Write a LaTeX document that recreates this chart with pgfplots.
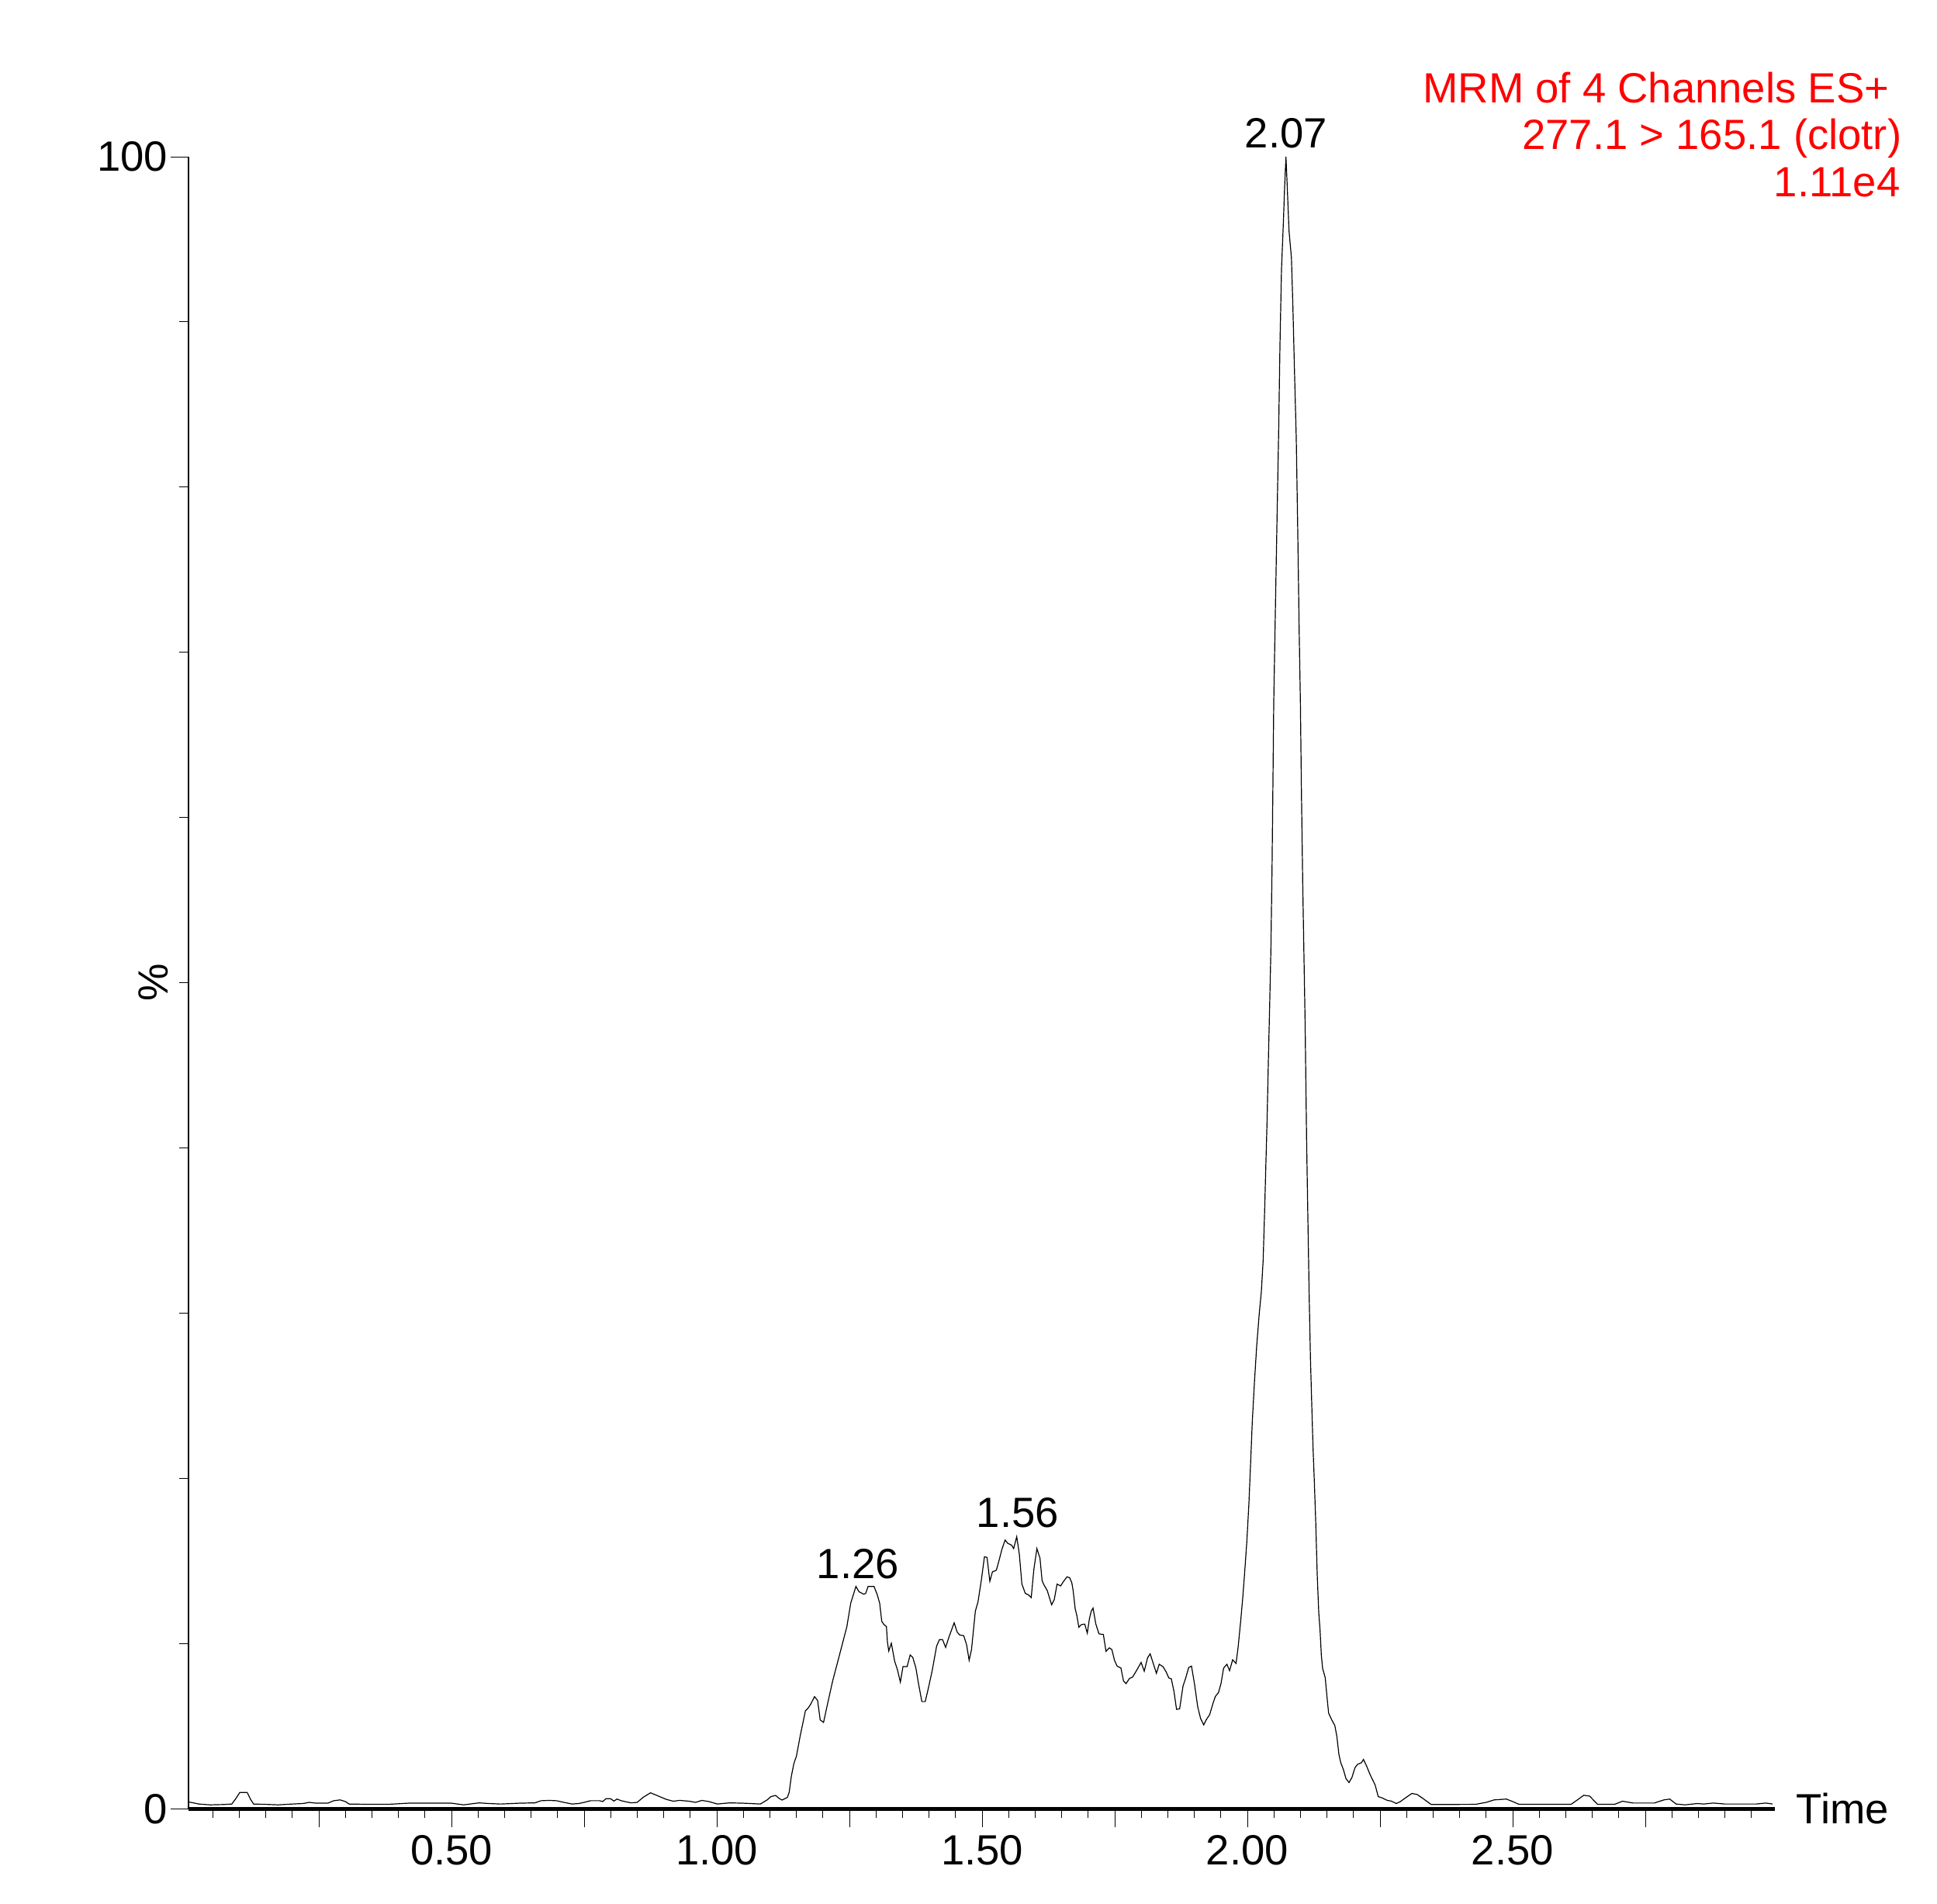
\documentclass[border=0pt]{standalone}
\usepackage{fontspec}
\setmainfont{Liberation Sans}
\usepackage{pgfplots}
\pgfplotsset{compat=1.18}
\usepackage{pgfplotstable}

% chromatogram trace: time (min), relative intensity (%)
\pgfplotstableread{
t     y
0.005 0.42
0.012 0.38
0.024 0.30
0.045 0.25
0.070 0.27
0.086 0.30
0.094 0.65
0.101 1.00
0.115 1.00
0.121 0.60
0.127 0.30
0.150 0.28
0.173 0.25
0.200 0.30
0.220 0.33
0.232 0.40
0.245 0.35
0.267 0.35
0.278 0.50
0.290 0.55
0.300 0.45
0.307 0.30
0.348 0.28
0.380 0.28
0.418 0.35
0.460 0.35
0.500 0.35
0.523 0.25
0.552 0.37
0.570 0.33
0.593 0.30
0.628 0.35
0.657 0.37
0.669 0.50
0.684 0.52
0.698 0.50
0.712 0.40
0.727 0.30
0.740 0.33
0.750 0.40
0.762 0.50
0.779 0.50
0.785 0.45
0.791 0.62
0.800 0.62
0.806 0.48
0.812 0.60
0.820 0.50
0.838 0.37
0.850 0.40
0.861 0.70
0.875 0.98
0.890 0.78
0.905 0.58
0.918 0.47
0.930 0.52
0.948 0.47
0.960 0.40
0.972 0.52
0.985 0.45
1.001 0.30
1.024 0.37
1.050 0.35
1.082 0.30
1.095 0.55
1.102 0.75
1.111 0.82
1.117 0.65
1.123 0.54
1.133 0.70
1.1365 1.02
1.1404 1.96
1.1452 2.74
1.1501 3.20
1.1574 4.46
1.1671 5.95
1.1720 6.10
1.1769 6.34
1.1842 6.80
1.1900 6.57
1.1949 5.39
1.2012 5.24
1.2086 6.34
1.2183 7.74
1.2305 9.23
1.2451 11.03
1.2524 12.45
1.2622 13.47
1.2680 13.15
1.2768 13.00
1.2807 13.05
1.2851 13.47
1.2963 13.47
1.3021 13.00
1.3070 12.45
1.3109 11.36
1.3148 11.17
1.3197 11.04
1.3216 10.10
1.3241 9.56
1.3290 10.03
1.3353 8.93
1.3402 8.46
1.3460 7.68
1.3509 8.62
1.3587 8.62
1.3645 9.32
1.3694 9.17
1.3752 8.54
1.3801 7.60
1.3865 6.50
1.3928 6.50
1.3986 7.29
1.4060 8.38
1.4143 9.86
1.4196 10.25
1.4255 10.25
1.4313 9.78
1.4376 10.41
1.4474 11.27
1.4532 10.69
1.4581 10.53
1.4654 10.49
1.4708 9.94
1.4756 9.00
1.4800 9.63
1.4873 11.97
1.4922 12.52
1.4986 13.85
1.5044 15.26
1.5093 15.23
1.5146 13.78
1.5195 14.35
1.5268 14.45
1.5312 14.95
1.5375 15.73
1.5434 16.28
1.5482 16.08
1.5556 15.97
1.5595 15.76
1.5653 16.48
1.5702 15.42
1.5750 13.62
1.5814 13.05
1.5877 12.95
1.5926 12.79
1.5975 14.48
1.6033 15.76
1.6091 15.18
1.6131 13.82
1.6160 13.60
1.6228 13.22
1.6311 12.36
1.6360 12.67
1.6413 13.61
1.6481 13.50
1.6530 13.75
1.6600 14.05
1.6650 14.00
1.6691 13.69
1.6716 13.22
1.6754 12.13
1.6789 11.66
1.6823 11.00
1.6871 11.16
1.6935 11.19
1.6983 10.64
1.7022 11.50
1.7057 11.97
1.7091 12.16
1.7144 11.19
1.7203 10.60
1.7286 10.56
1.7335 9.54
1.7398 9.75
1.7446 9.65
1.7495 9.00
1.7544 8.65
1.7617 8.53
1.7666 7.74
1.7714 7.59
1.7778 7.90
1.7836 7.98
1.7909 8.37
1.7997 8.87
1.8056 8.34
1.8119 9.15
1.8168 9.39
1.8226 8.81
1.8285 8.21
1.8338 8.76
1.8411 8.61
1.8470 8.29
1.8519 7.93
1.8567 7.87
1.8616 7.12
1.8665 6.03
1.8723 6.06
1.8787 7.44
1.8835 7.90
1.8894 8.56
1.8947 8.65
1.9006 7.51
1.9064 6.18
1.9118 5.48
1.9177 5.09
1.9225 5.40
1.9289 5.71
1.9347 6.34
1.9396 6.81
1.9454 7.04
1.9503 7.59
1.9552 8.53
1.9615 8.76
1.9664 8.37
1.9722 9.03
1.9786 8.81
1.9825 9.78
1.9873 11.35
1.9912 12.76
1.9946 14.20
1.9990 16.20
2.0029 18.50
2.0063 21.10
2.0092 23.40
2.0136 26.00
2.0175 28.00
2.0224 30.00
2.0263 31.30
2.0297 33.20
2.0326 36.30
2.0350 39.20
2.0370 41.50
2.0395 45.20
2.0419 48.50
2.0443 52.00
2.0465 57.00
2.0482 62.20
2.0497 67.00
2.0526 72.30
2.0556 77.60
2.0589 83.30
2.0614 88.60
2.0643 93.20
2.0677 95.90
2.0702 98.20
2.0727 100.00
2.0751 98.20
2.0785 95.50
2.0830 93.90
2.0858 90.90
2.0888 87.00
2.0921 83.00
2.0950 77.20
2.0975 71.50
2.0999 67.00
2.1019 61.50
2.1043 56.00
2.1067 51.50
2.1088 47.60
2.1116 40.50
2.1140 35.80
2.1165 31.00
2.1189 27.20
2.1214 24.40
2.1238 21.80
2.1262 19.80
2.1287 17.50
2.1316 14.20
2.1345 11.90
2.1370 10.80
2.1394 9.30
2.1418 8.50
2.1467 7.95
2.1500 6.80
2.1531 5.80
2.1589 5.40
2.1648 5.05
2.1686 4.40
2.1725 3.30
2.1760 2.80
2.1808 2.40
2.1857 1.85
2.1915 1.60
2.1970 1.90
2.2028 2.50
2.2076 2.70
2.2150 2.80
2.2188 3.00
2.2247 2.60
2.2310 2.10
2.2408 1.45
2.2466 0.75
2.2540 0.67
2.2637 0.52
2.2710 0.48
2.2807 0.33
2.2880 0.44
2.2978 0.67
2.3100 0.94
2.3197 0.88
2.3294 0.67
2.3392 0.44
2.3465 0.27
2.4300 0.28
2.4500 0.40
2.4650 0.55
2.4880 0.60
2.5000 0.45
2.5120 0.28
2.6100 0.28
2.6220 0.55
2.6340 0.83
2.6450 0.78
2.6600 0.28
2.6920 0.28
2.7070 0.47
2.7270 0.36
2.7670 0.36
2.7850 0.55
2.7960 0.60
2.8080 0.30
2.8250 0.25
2.8480 0.33
2.8600 0.30
2.8780 0.36
2.9000 0.30
2.9590 0.30
2.9770 0.36
2.9900 0.30
}\trace

\begin{document}
\fontsize{15.5pt}{18pt}\selectfont
\begin{tikzpicture}
  \fill[white] (0mm,0mm) rectangle (249.7mm,-245.3mm);
  \useasboundingbox (0mm,0mm) rectangle (249.7mm,-245.3mm);
  \begin{axis}[
      at={(24.27mm,-233.15mm)}, anchor=south west,
      scale only axis,
      width=204.53mm, height=212.95mm,
      xmin=0.0039, xmax=2.9942,
      ymin=0, ymax=100,
      clip=false,
      axis x line=bottom, axis y line=left,
      axis line style={-, black},
      x axis line style={line width=0.5mm},
      y axis line style={line width=0.2mm},
      tick align=outside,
      tick style={black, line width=0.1mm},
      major tick length=2.3mm,
      minor tick length=1.15mm,
      xtick={0.25,0.5,0.75,1,1.25,1.5,1.75,2,2.25,2.5,2.75},
      xticklabels={,0.50,,1.00,,1.50,,2.00,,2.50,},
      minor xtick={0.05,0.1,...,2.96},
      ytick={0,100},
      yticklabels={0,100},
      minor ytick={10,20,...,90},
      /pgf/number format/assume math mode=true,
      xticklabel style={anchor=base, inner sep=0pt, yshift=-4.85mm},
      yticklabel style={anchor=east, inner sep=0pt, xshift=-0.3mm},
      xlabel={Time},
      xlabel style={at={(axis description cs:1,0)}, anchor=base west,
        inner sep=0pt, xshift=2.7mm, yshift=-1.85mm},
      ylabel={\%},
      ylabel style={at={(axis description cs:0,0.5)}, anchor=center,
        inner sep=0pt, yshift=4.5mm},
    ]
    \addplot[black, line width=0.12mm, mark=none] table[x=t, y=y] {\trace};
    % retention-time labels over the peaks
    \node[anchor=base, inner sep=0pt] at (axis cs:2.0727,100.53) {2.07};
    \node[anchor=base, inner sep=0pt] at (axis cs:1.567,17.07) {1.56};
    \node[anchor=base, inner sep=0pt] at (axis cs:1.266,13.97) {1.26};
  \end{axis}
  \node[anchor=base east, inner sep=0pt, text=red] at (243.6mm,-13.27mm) {MRM of 4 Channels ES+};
  \node[anchor=base east, inner sep=0pt, text=red] at (245.2mm,-19.27mm) {277.1 > 165.1 (clotr)};
  \node[anchor=base east, inner sep=0pt, text=red] at (245.0mm,-25.33mm) {1.11e4};
\end{tikzpicture}
\end{document}
